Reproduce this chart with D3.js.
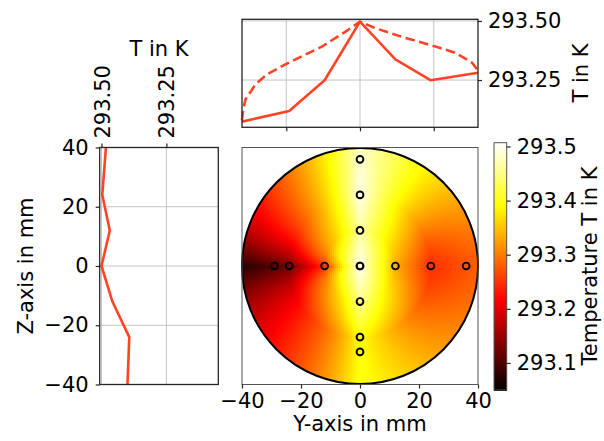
<!DOCTYPE html>
<html><head><meta charset="utf-8">
<script src="https://cdn.jsdelivr.net/npm/d3@7"></script>
<style>
html,body{margin:0;padding:0;background:#fff;}
svg text{font-family:"DejaVu Sans",sans-serif;font-size:21px;fill:#000;}
</style></head>
<body><svg id="c" width="604" height="441"></svg>
<script>
// ---------- data ----------
const profileY = [-40, -24, -12, 0, 12, 24, 40];
const profileYT = [293.074, 293.119, 293.249, 293.497, 293.337, 293.249, 293.281];
const dashedY = [-40, -39.6, -38.8, -35.4, -31.5, -25.3, -19.6, -12.8, -4.9, 0, 5.3, 15.4, 25.6, 32.4, 38, 40];
const dashedT = [293.08, 293.125, 293.169, 293.232, 293.274, 293.316, 293.351, 293.392, 293.455, 293.497, 293.469, 293.428, 293.392, 293.365, 293.323, 293.29];
const profileZ = [40, 24, 12, 0, -12, -24, -40];
const profileZT = [293.483, 293.497, 293.468, 293.500, 293.458, 293.393, 293.400];
const sensorY = [-29, -24, -12, 0, 12, 24, 36];
const sensorZ = [36, 24, 12, 0, -12, -24, -29];
const posTicks = [-40, -20, 0, 20, 40];
const topPanelTicks = [-25, 0, 25];
const tempTicks = [293.25, 293.50];
const cbarTicks = [293.1, 293.2, 293.3, 293.4, 293.5];
const tRange = [293.05, 293.507];
const radius = 40;

// ---------- helpers ----------
function hot(t){
  t = Math.max(0, Math.min(1, t));
  const r = Math.min(1, t/0.365079);
  const g = Math.max(0, Math.min(1, (t-0.365079)/(0.746032-0.365079)));
  const b = Math.max(0, Math.min(1, (t-0.746032)/(1-0.746032)));
  return d3.rgb(r*255, g*255, b*255).formatHex();
}
const colorT = d3.scaleLinear().domain(tRange).range([0,1]).clamp(true);
const interpH = d3.scaleLinear().domain(profileY).range(profileYT).clamp(true);
const interpV = d3.scaleLinear().domain(profileZ.slice().reverse()).range(profileZT.slice().reverse()).clamp(true);
// angular blending between the horizontal and the vertical profile
function angWeight(a, leftSide){
  return leftSide ? 0.4*(1 - Math.pow(1-a, 4)) + 0.6*Math.pow(a, 2.5)
                  : Math.pow(a, 1.4);
}
function field(y, z){
  const r = Math.hypot(y, z);
  if (r === 0) return (interpH(0)+interpV(0))/2;
  const a = angWeight(Math.atan2(Math.abs(z), Math.abs(y)) / (Math.PI/2), y < 0);
  const th = interpH(y >= 0 ? r : -r);
  const tv = interpV(z >= 0 ? r : -r);
  return (1-a)*th + a*tv;
}

const svg = d3.select("#c");
const frameColor = "#262626", gridColor = "#c4c4c4", lineColor = "#ff4426";

// ---------- scales ----------
const mx = d3.scaleLinear().domain([-40,40]).range([242,478]);
const my = d3.scaleLinear().domain([-40,40]).range([384.5,147.5]);
const topY = d3.scaleLinear().domain(tRange).range([127.3,19.3]);
const leftX = d3.scaleLinear().domain([tRange[1], tRange[0]]).range([99.7,218.3]);
const cbY = d3.scaleLinear().domain(tRange).range([390,142.7]);

function styleAxis(g){
  g.select(".domain").remove();
  g.selectAll(".tick line").attr("stroke", frameColor).attr("stroke-width", 1.2);
  g.selectAll(".tick text").attr("font-family","DejaVu Sans").attr("font-size",21).attr("fill","#000");
}

// ---------- main heat map ----------
svg.append("defs").append("clipPath").attr("id","circ")
  .append("circle").attr("cx", mx(0)).attr("cy", my(0)).attr("r", mx(radius)-mx(0));
const cell = 2;
const cells = [];
for (let px = mx(-40); px < mx(40); px += cell){
  for (let py = my(40); py < my(-40); py += cell){
    const y = mx.invert(px + cell/2), z = my.invert(py + cell/2);
    if (Math.hypot(y, z) > radius + 1.5) continue;
    cells.push({px, py, v: field(y, z)});
  }
}
svg.append("g").attr("clip-path","url(#circ)").selectAll("rect").data(cells).join("rect")
  .attr("x", d=>d.px).attr("y", d=>d.py).attr("width", cell+0.6).attr("height", cell+0.6)
  .attr("fill", d=>hot(colorT(d.v))).attr("shape-rendering","crispEdges");
svg.append("circle").attr("cx", mx(0)).attr("cy", my(0)).attr("r", mx(radius)-mx(0))
  .attr("fill","none").attr("stroke","#000").attr("stroke-width",2);
const sensors = sensorY.map(y=>({y, z:0})).concat(sensorZ.map(z=>({y:0, z})));
svg.append("g").selectAll("circle").data(sensors).join("circle")
  .attr("cx", d=>mx(d.y)).attr("cy", d=>my(d.z)).attr("r", 3.4)
  .attr("fill","none").attr("stroke","#000").attr("stroke-width",1.9);
svg.append("rect").attr("x",242).attr("y",147.5).attr("width",236).attr("height",237)
  .attr("fill","none").attr("stroke","#555").attr("stroke-width",1);
svg.append("g").attr("transform","translate(0,384.5)")
  .call(d3.axisBottom(mx).tickValues(posTicks).tickSize(4).tickPadding(5).tickFormat(d3.format("d")))
  .call(styleAxis);
svg.append("text").attr("x", 360).attr("y", 431).attr("text-anchor","middle").text("Y-axis in mm");

// ---------- top panel ----------
const tp = svg.append("g");
tp.selectAll(".gv").data(topPanelTicks).join("line").attr("x1",d=>mx(d)).attr("x2",d=>mx(d))
  .attr("y1",19.3).attr("y2",127.3).attr("stroke",gridColor).attr("stroke-width",1);
tp.selectAll(".gh").data(tempTicks).join("line").attr("y1",d=>topY(d)).attr("y2",d=>topY(d))
  .attr("x1",242).attr("x2",478).attr("stroke",gridColor).attr("stroke-width",1);
const lineTop = d3.line().x(d=>mx(d[0])).y(d=>topY(d[1]));
tp.append("path").attr("d", lineTop(d3.zip(dashedY, dashedT))).attr("fill","none")
  .attr("stroke",lineColor).attr("stroke-width",2.6).attr("stroke-dasharray","9.5,4.5");
tp.append("path").attr("d", lineTop(d3.zip(profileY, profileYT))).attr("fill","none")
  .attr("stroke",lineColor).attr("stroke-width",2.6).attr("stroke-linejoin","round");
tp.append("rect").attr("x",242).attr("y",19.3).attr("width",236).attr("height",108)
  .attr("fill","none").attr("stroke",frameColor).attr("stroke-width",1.3);
svg.append("g").attr("transform","translate(478,0)")
  .call(d3.axisRight(topY).tickValues(tempTicks).tickSize(4).tickPadding(6).tickFormat(d3.format(".2f")))
  .call(styleAxis);
svg.append("g").attr("transform","translate(0,127.3)")
  .call(d3.axisBottom(mx).tickValues(topPanelTicks).tickSize(4).tickFormat(""))
  .call(styleAxis);
svg.append("text").attr("transform","translate(588,73) rotate(-90)").attr("text-anchor","middle").text("T in K");

// ---------- left panel ----------
const lp = svg.append("g");
lp.selectAll(".gv").data(tempTicks).join("line").attr("x1",d=>leftX(d)).attr("x2",d=>leftX(d))
  .attr("y1",147.5).attr("y2",385).attr("stroke",gridColor).attr("stroke-width",1);
lp.selectAll(".gh").data([-20,0,20]).join("line").attr("y1",d=>my(d)).attr("y2",d=>my(d))
  .attr("x1",99.7).attr("x2",218.3).attr("stroke",gridColor).attr("stroke-width",1);
lp.append("path").attr("d", d3.line().x(d=>leftX(d[1])).y(d=>my(d[0]))(d3.zip(profileZ, profileZT)))
  .attr("fill","none").attr("stroke",lineColor).attr("stroke-width",2.6).attr("stroke-linejoin","round");
lp.append("rect").attr("x",99.7).attr("y",147.5).attr("width",118.6).attr("height",237)
  .attr("fill","none").attr("stroke",frameColor).attr("stroke-width",1.3);
svg.append("g").attr("transform","translate(99.7,0)")
  .call(d3.axisLeft(my).tickValues(posTicks).tickSize(4).tickPadding(7).tickFormat(d3.format("d")))
  .call(styleAxis);
const topAx = svg.append("g").attr("transform","translate(0,147.5)")
  .call(d3.axisTop(leftX).tickValues(tempTicks).tickSize(4).tickFormat(d3.format(".2f")))
  .call(styleAxis);
topAx.selectAll(".tick text").attr("transform","translate(7.5,-9) rotate(-90)")
  .attr("text-anchor","start").attr("dy","0").attr("y",0).attr("x",0);
svg.append("text").attr("x",159).attr("y",56).attr("text-anchor","middle").text("T in K");
svg.append("text").attr("transform","translate(33,266) rotate(-90)").attr("text-anchor","middle").text("Z-axis in mm");

// ---------- colorbar ----------
const cbSteps = d3.range(0, 248);
svg.append("g").selectAll("rect").data(cbSteps).join("rect")
  .attr("x",494).attr("width",12.7)
  .attr("y", d=>142.7 + d).attr("height", 1.6)
  .attr("fill", d=>hot(colorT(cbY.invert(142.7 + d + 0.5))))
  .attr("shape-rendering","crispEdges");
svg.append("rect").attr("x",494).attr("y",142.7).attr("width",12.7).attr("height",247.3)
  .attr("fill","none").attr("stroke","#555").attr("stroke-width",1);
svg.append("g").attr("transform","translate(506.7,0)")
  .call(d3.axisRight(cbY).tickValues(cbarTicks).tickSize(4).tickPadding(6).tickFormat(d3.format(".1f")))
  .call(styleAxis);
svg.append("text").attr("transform","translate(597,266) rotate(-90)").attr("text-anchor","middle").text("Temperature T in K");
</script></body></html>
